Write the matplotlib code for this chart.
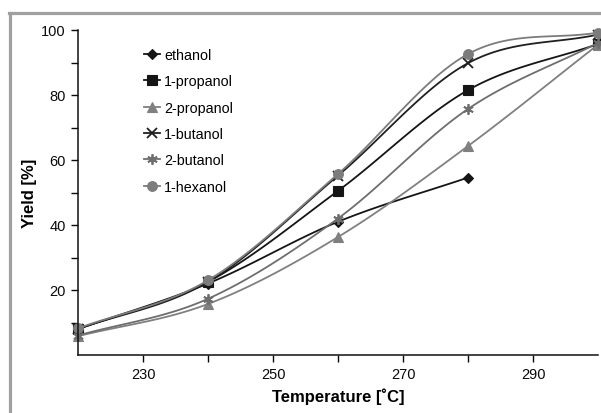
import numpy as np
import matplotlib
matplotlib.use("Agg")
import matplotlib.pyplot as plt
from matplotlib.lines import Line2D

plt.rcParams['font.family'] = ['Liberation Sans', 'DejaVu Sans']

# data
temps = [220, 240, 260, 280, 300]
ethanol = [8.0, 22.0, 41.0, 54.6]
propanol_1 = [8.0, 22.5, 50.5, 81.5, 95.7]
propanol_2 = [5.8, 15.7, 36.3, 64.3, 95.5]
butanol_1 = [8.0, 22.5, 55.2, 89.8, 98.6]
butanol_2 = [6.0, 17.3, 42.0, 75.7, 96.0]
hexanol_1 = [8.2, 23.0, 55.7, 92.6, 99.2]

names = ['ethanol', '1-propanol', '2-propanol', '1-butanol', '2-butanol', '1-hexanol']
series = [ethanol, propanol_1, propanol_2, butanol_1, butanol_2, hexanol_1]
markers = ['D', 's', '^', 'x', (6, 2, 0), 'o']
msizes = [5.5, 7, 7, 7, 7.5, 7]
colors = ['#151515', '#151515', '#808080', '#202020', '#6e6e6e', '#7c7c7c']


def smooth(x, y, n=30):
    # catmull-rom curve through the points, only for drawing the line
    x = np.asarray(x, float)
    y = np.asarray(y, float)
    px = np.concatenate([[2 * x[0] - x[1]], x, [2 * x[-1] - x[-2]]])
    py = np.concatenate([[2 * y[0] - y[1]], y, [2 * y[-1] - y[-2]]])
    xs, ys = [], []
    t = np.linspace(0, 1, n)
    for i in range(1, len(px) - 2):
        for p, out in ((px, xs), (py, ys)):
            p0, p1, p2, p3 = p[i - 1], p[i], p[i + 1], p[i + 2]
            out.append(0.5 * (2 * p1 + (-p0 + p2) * t
                              + (2 * p0 - 5 * p1 + 4 * p2 - p3) * t ** 2
                              + (-p0 + 3 * p1 - 3 * p2 + p3) * t ** 3))
    return np.concatenate(xs), np.concatenate(ys)


fig = plt.figure(figsize=(6.01, 4.14), dpi=100)
ax = fig.add_axes([78 / 601, 58 / 414, 520 / 601, 325 / 414])

handles = []
for name, vals, m, ms, c in zip(names, series, markers, msizes, colors):
    xx = temps[:len(vals)]
    sx, sy = smooth(xx, vals)
    ax.plot(sx, sy, color=c, lw=1.3, clip_on=False)
    mew = 1.3 if m in ('x', (6, 2, 0)) else 0.8
    ax.plot(xx, vals, ls='none', marker=m, ms=ms, color=c, mec=c, mew=mew, clip_on=False)
    handles.append(Line2D([], [], color=c, lw=1.3, marker=m, ms=ms, mec=c, mew=mew, label=name))

ax.set_xlim(220, 300)
ax.set_ylim(0, 100)
ax.set_xticks([230, 250, 270, 290])
ax.set_xticks([240, 260, 280], minor=True)
ax.set_yticks([20, 40, 60, 80, 100])
ax.set_yticks([10, 30, 50, 70, 90], minor=True)
ax.tick_params(which='both', direction='out', length=5, width=1, labelsize=10.5,
               colors='#0a0a0a', pad=4)
ax.spines['top'].set_visible(False)
ax.spines['right'].set_visible(False)
for s in ('left', 'bottom'):
    ax.spines[s].set_linewidth(1.1)
    ax.spines[s].set_color('#111111')

ax.set_xlabel('Temperature [˚C]', fontsize=12, fontweight='bold', labelpad=4)
ax.set_ylabel('Yield [%]', fontsize=12, fontweight='bold', labelpad=3)

ax.legend(handles=handles, loc='upper left', bbox_to_anchor=(137 / 601, 1 - 42 / 414),
          bbox_transform=fig.transFigure, frameon=False, fontsize=10.3,
          handlelength=1.1, handletextpad=0.3, labelspacing=0.86, borderpad=0)

# grey frame around the picture
fig.add_artist(Line2D([9.5 / 601, 9.5 / 601], [0, 1 - 14 / 414], color='#a0a0a0', lw=2.3))
fig.add_artist(Line2D([8.5 / 601, 1], [1 - 14 / 414, 1 - 14 / 414], color='#a0a0a0', lw=2.3))

fig.savefig('out.png', dpi=100)
